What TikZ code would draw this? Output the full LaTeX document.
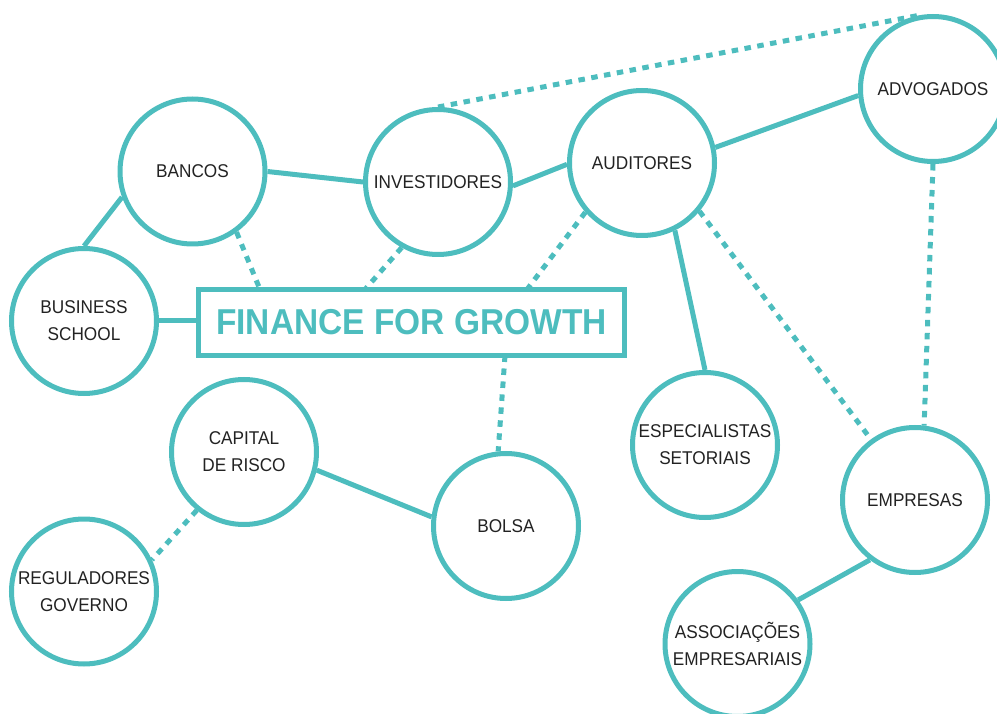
\documentclass[tikz,border=0pt]{standalone}
\usepackage{fontspec}
\setmainfont{Liberation Sans}[FakeStretch=0.93]
\definecolor{teal1}{RGB}{77,189,190}
\definecolor{txt}{RGB}{34,34,34}
\tikzset{
  bubble/.style={circle,draw=teal1,line width=5pt,minimum size=145pt,inner sep=0pt,fill=white,
    text=txt,align=center,font=\fontsize{18.5}{27}\selectfont},
  titlebox/.style={rectangle,draw=teal1,line width=5pt,minimum width=426pt,minimum height=66pt,inner sep=0pt,
    text=teal1,font=\fontsize{36}{40}\selectfont\bfseries},
  link/.style={draw=teal1,line width=5pt},
  dotlink/.style={draw=teal1,line width=5pt,dash pattern=on 6.5pt off 6.5pt},
}
\begin{document}
\begin{tikzpicture}[x=1pt,y=-1pt]
\useasboundingbox (0,0) rectangle (997,714);
\clip (0,0) rectangle (997,714);
% connectors first (behind)
\coordinate (bancosC) at (192.5,171.5);
\node[bubble] (bancos) at (192.5,171.5) {BANCOS};
\node[bubble] (inv) at (438,182) {INVESTIDORES};
\node[bubble] (aud) at (642,163) {AUDITORES};
\node[bubble] (adv) at (933,89) {ADVOGADOS};
\node[bubble] (bs) at (84,321) {BUSINESS\\SCHOOL};
\node[titlebox] (title) at (411.5,322.5) {FINANCE FOR GROWTH};
\node[bubble] (cap) at (244,452) {CAPITAL\\DE RISCO};
\node[bubble] (reg) at (84,591.5) {REGULADORES\\GOVERNO};
\node[bubble] (bolsa) at (506,526) {BOLSA};
\node[bubble] (esp) at (705,445) {ESPECIALISTAS\\SETORIAIS};
\node[bubble] (emp) at (915,500) {EMPRESAS};
\node[bubble] (assoc) at (737.5,644) {ASSOCIAÇÕES\\EMPRESARIAIS};
\coordinate (t1) at (260,289.5);
\coordinate (t2) at (365,289.5);
\coordinate (t3) at (527,289.5);
\coordinate (t4) at (505,355.5);
% solid
\draw[link] (bancos.0) -- (inv.180);
\draw[link] (bancos.200) -- (bs.90);
\draw[link] (bs.east) -- (bs.east -| title.west);
\draw[link] (inv.-3) -- (aud.181);
\draw[link] (aud.12) -- (adv.185);
\draw[link] (aud.-64) -- (esp.90);
\draw[link] (cap.-14) -- (bolsa.173);
\draw[link] (emp.233) -- (assoc.36);
% dotted
\draw[dotlink] (inv.90) -- (adv.100);
\draw[dotlink] (bancos.-54) -- (t1);
\draw[dotlink] (inv.-119) -- (t2);
\draw[dotlink] (aud.221) -- (t3);
\draw[dotlink] (t4) -- (bolsa.96);
\draw[dotlink] (aud.-40) -- (emp.126);
\draw[dotlink] (adv.-90) -- (emp.83);
\draw[dotlink] (cap.231) -- (reg.25);
\end{tikzpicture}
\end{document}
